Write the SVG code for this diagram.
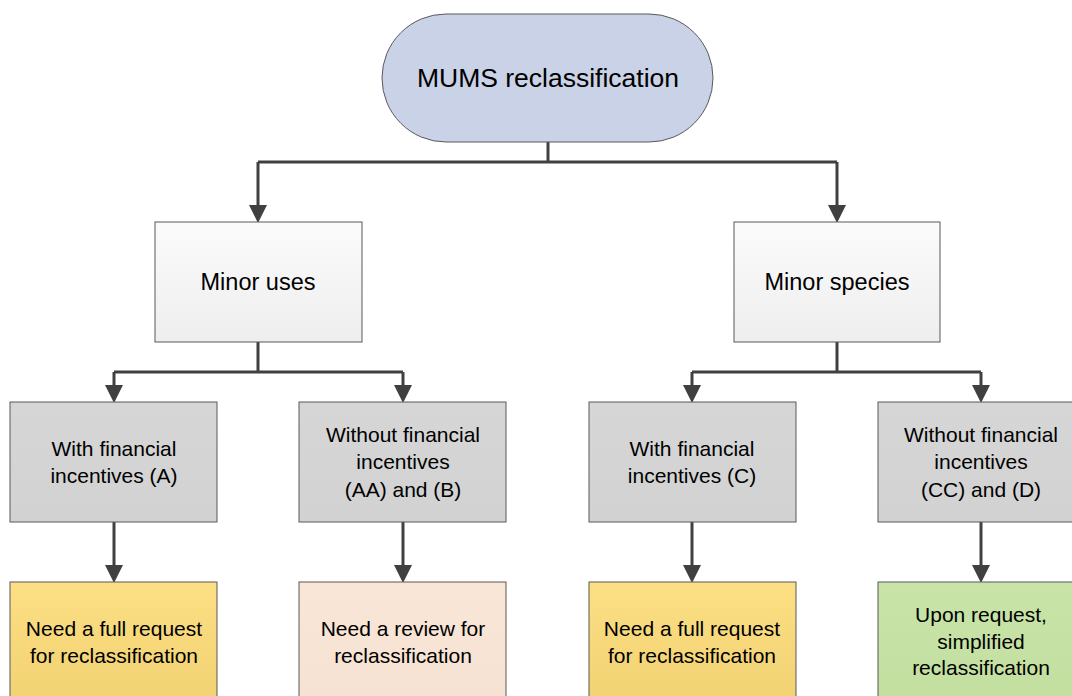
<svg xmlns="http://www.w3.org/2000/svg" width="1072" height="696" viewBox="0 0 1072 696">
<style>
text{font-family:"Liberation Sans",Arial,sans-serif;fill:#000;text-anchor:middle}
.t1{font-size:26.5px}
.t2{font-size:23.5px}
.t3{font-size:21px}
.box{stroke:#595959;stroke-width:1}
.conn{fill:none;stroke:#404040;stroke-width:3}
</style>
<defs>
<marker id="ah" viewBox="0 0 18 18" refX="8" refY="9" markerWidth="18" markerHeight="18" markerUnits="userSpaceOnUse" orient="auto">
<path d="M0,0 L18,9 L0,18 z" fill="#404040"/>
</marker>
<linearGradient id="gw" x1="0" y1="0" x2="0" y2="1"><stop offset="0" stop-color="#fbfbfb"/><stop offset="1" stop-color="#eeeeee"/></linearGradient>
<linearGradient id="gg" x1="0" y1="0" x2="0" y2="1"><stop offset="0" stop-color="#d6d6d6"/><stop offset="1" stop-color="#d2d2d2"/></linearGradient>
<linearGradient id="gy" x1="0" y1="0" x2="0" y2="1"><stop offset="0" stop-color="#fddf85"/><stop offset="1" stop-color="#f0d272"/></linearGradient>
<linearGradient id="gp" x1="0" y1="0" x2="0" y2="1"><stop offset="0" stop-color="#f9e6d6"/><stop offset="1" stop-color="#f6e2d2"/></linearGradient>
<linearGradient id="gn" x1="0" y1="0" x2="0" y2="1"><stop offset="0" stop-color="#c8e4a7"/><stop offset="1" stop-color="#c2dfa0"/></linearGradient>
</defs>
<rect width="1072" height="696" fill="#fff"/>
<g id="connectors">
<path class="conn" d="M548,142 V162"/>
<path class="conn" d="M258,162 H837"/>
<path class="conn" d="M258,162 V213" marker-end="url(#ah)"/>
<path class="conn" d="M837,162 V213" marker-end="url(#ah)"/>
<path class="conn" d="M258,342 V372 M114,372 H403 M837,342 V372 M692,372 H981"/>
<path class="conn" d="M114,372 V393" marker-end="url(#ah)"/>
<path class="conn" d="M403,372 V393" marker-end="url(#ah)"/>
<path class="conn" d="M692,372 V393" marker-end="url(#ah)"/>
<path class="conn" d="M981,372 V393" marker-end="url(#ah)"/>
<path class="conn" d="M114,522 V573" marker-end="url(#ah)"/>
<path class="conn" d="M403,522 V573" marker-end="url(#ah)"/>
<path class="conn" d="M692,522 V573" marker-end="url(#ah)"/>
<path class="conn" d="M981,522 V573" marker-end="url(#ah)"/>
</g>
<g id="root">
<rect class="box" x="382" y="14" width="331" height="128" rx="64" ry="64" fill="#c9d2e6"/>
<text class="t1" x="548" y="87">MUMS reclassification</text>
</g>
<g id="minor-uses">
<rect class="box" x="155" y="222" width="207" height="120" fill="url(#gw)"/>
<text class="t2" x="258" y="290">Minor uses</text>
</g>
<g id="minor-species">
<rect class="box" x="734" y="222" width="206" height="120" fill="url(#gw)"/>
<text class="t2" x="837" y="290">Minor species</text>
</g>
<g id="uses-with">
<rect class="box" x="10" y="402" width="207" height="120" fill="url(#gg)"/>
<text class="t3" x="114" y="456">With financial</text>
<text class="t3" x="114" y="483">incentives (A)</text>
</g>
<g id="uses-without">
<rect class="box" x="299" y="402" width="207" height="120" fill="url(#gg)"/>
<text class="t3" x="403" y="442">Without financial</text>
<text class="t3" x="403" y="469">incentives</text>
<text class="t3" x="403" y="497">(AA) and (B)</text>
</g>
<g id="species-with">
<rect class="box" x="589" y="402" width="207" height="120" fill="url(#gg)"/>
<text class="t3" x="692" y="456">With financial</text>
<text class="t3" x="692" y="483">incentives (C)</text>
</g>
<g id="species-without">
<rect class="box" x="878" y="402" width="207" height="120" fill="url(#gg)"/>
<text class="t3" x="981" y="442">Without financial</text>
<text class="t3" x="981" y="469">incentives</text>
<text class="t3" x="981" y="497">(CC) and (D)</text>
</g>
<g id="result-a">
<rect class="box" x="10" y="582" width="207" height="125" fill="url(#gy)"/>
<text class="t3" x="114" y="636">Need a full request</text>
<text class="t3" x="114" y="663">for reclassification</text>
</g>
<g id="result-b">
<rect class="box" x="299" y="582" width="207" height="125" fill="url(#gp)"/>
<text class="t3" x="403" y="636">Need a review for</text>
<text class="t3" x="403" y="663">reclassification</text>
</g>
<g id="result-c">
<rect class="box" x="589" y="582" width="207" height="125" fill="url(#gy)"/>
<text class="t3" x="692" y="636">Need a full request</text>
<text class="t3" x="692" y="663">for reclassification</text>
</g>
<g id="result-d">
<rect class="box" x="878" y="582" width="207" height="125" fill="url(#gn)"/>
<text class="t3" x="981" y="622">Upon request,</text>
<text class="t3" x="981" y="649">simplified</text>
<text class="t3" x="981" y="675">reclassification</text>
</g>
</svg>
